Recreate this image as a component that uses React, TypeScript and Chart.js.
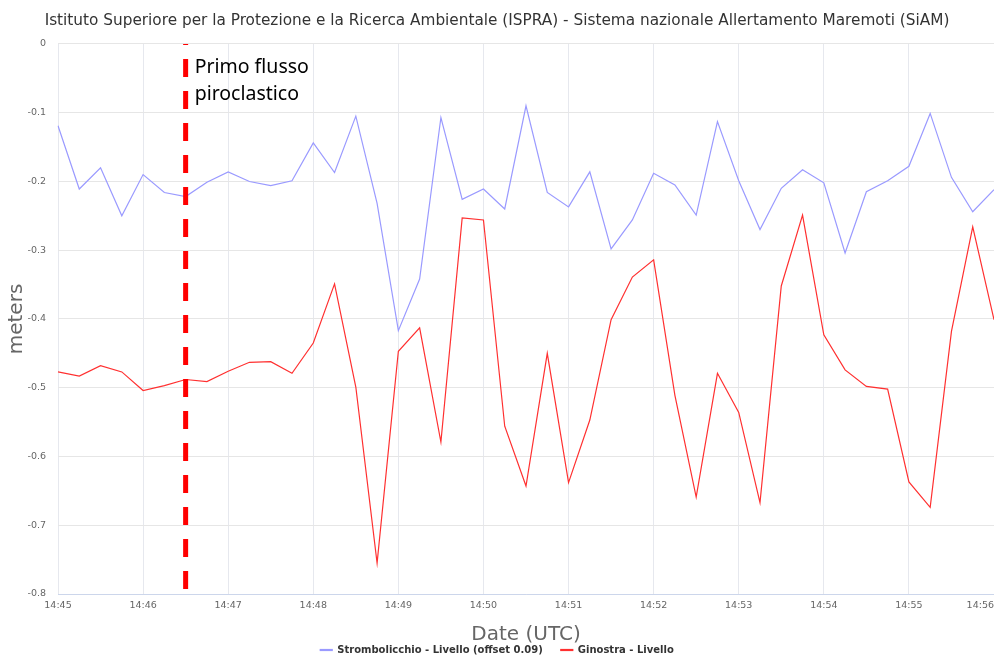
import React, { useEffect, useRef } from "react";
import { Chart, registerables } from "chart.js";

Chart.register(...registerables);

const chartTitle =
  "Istituto Superiore per la Protezione e la Ricerca Ambientale (ISPRA) - Sistema nazionale Allertamento Maremoti (SiAM)";

const timeLabels = [
  "14:45:00", "14:45:15", "14:45:30", "14:45:45",
  "14:46:00", "14:46:15", "14:46:30", "14:46:45",
  "14:47:00", "14:47:15", "14:47:30", "14:47:45",
  "14:48:00", "14:48:15", "14:48:30", "14:48:45",
  "14:49:00", "14:49:15", "14:49:30", "14:49:45",
  "14:50:00", "14:50:15", "14:50:30", "14:50:45",
  "14:51:00", "14:51:15", "14:51:30", "14:51:45",
  "14:52:00", "14:52:15", "14:52:30", "14:52:45",
  "14:53:00", "14:53:15", "14:53:30", "14:53:45",
  "14:54:00", "14:54:15", "14:54:30", "14:54:45",
  "14:55:00", "14:55:15", "14:55:30", "14:55:45",
  "14:56:00",
];

const strombolicchio = [
  -0.119, -0.211, -0.180, -0.250, -0.190, -0.216, -0.222, -0.201,
  -0.186, -0.200, -0.206, -0.199, -0.144, -0.187, -0.105, -0.232,
  -0.417, -0.342, -0.107, -0.226, -0.211, -0.240, -0.090, -0.216,
  -0.237, -0.186, -0.298, -0.256, -0.188, -0.205, -0.249, -0.113,
  -0.199, -0.270, -0.210, -0.183, -0.202, -0.304, -0.215, -0.199,
  -0.178, -0.101, -0.194, -0.244, -0.212,
];

const ginostra = [
  -0.477, -0.483, -0.468, -0.477, -0.504, -0.497, -0.488, -0.491,
  -0.476, -0.463, -0.462, -0.479, -0.435, -0.349, -0.499, -0.755,
  -0.447, -0.413, -0.579, -0.253, -0.256, -0.556, -0.643, -0.450,
  -0.638, -0.547, -0.401, -0.339, -0.314, -0.511, -0.659, -0.479,
  -0.536, -0.667, -0.352, -0.249, -0.423, -0.474, -0.498, -0.502,
  -0.637, -0.674, -0.418, -0.266, -0.401,
];

const seriesNames = ["Strombolicchio - Livello (offset 0.09)", "Ginostra - Livello"];
const markerTime = "14:46:30";
const markerText = ["Primo flusso", "piroclastico"];
const yTitle = "meters";
const xTitle = "Date (UTC)";

const SANS = "'DejaVu Sans', sans-serif";

const markerPlugin = {
  id: "markerPlugin",
  beforeDraw(chart: any) {
    const xs = chart.scales.x;
    const items = xs.getLabelItems();
    const last = items[items.length - 1];
    if (last && last.options) last.options.textAlign = "right";
  },
  afterDatasetsDraw(chart: any) {
    const { ctx, chartArea } = chart;
    const xs = chart.scales.x;
    const idx = timeLabels.indexOf(markerTime);
    const x = xs.getPixelForValue(idx);
    ctx.save();
    ctx.strokeStyle = "#ff0000";
    ctx.lineWidth = 5;
    ctx.setLineDash([18, 14]);
    ctx.lineDashOffset = 17;
    ctx.beginPath();
    ctx.moveTo(x, chartArea.top);
    ctx.lineTo(x, chartArea.bottom + 4);
    ctx.stroke();
    ctx.setLineDash([]);
    ctx.fillStyle = "#000000";
    ctx.font = "19.5px 'Noto Sans', sans-serif";
    ctx.textAlign = "left";
    ctx.textBaseline = "alphabetic";
    ctx.fillText(markerText[0], x + 9, chartArea.top + 29);
    ctx.fillText(markerText[1], x + 9, chartArea.top + 56);
    ctx.restore();
  },
};

export default function App() {
  const ref = useRef<HTMLCanvasElement | null>(null);

  useEffect(() => {
    if (!ref.current) return;
    const chart = new Chart(ref.current, {
      type: "line",
      data: {
        labels: timeLabels,
        datasets: [
          {
            label: seriesNames[0],
            data: strombolicchio,
            borderColor: "#9a9aff",
            backgroundColor: "#9a9aff",
            borderWidth: 1.2,
            pointRadius: 0,
            tension: 0,
          },
          {
            label: seriesNames[1],
            data: ginostra,
            borderColor: "#ff3030",
            backgroundColor: "#ff3030",
            borderWidth: 1.2,
            pointRadius: 0,
            tension: 0,
          },
        ],
      },
      options: {
        responsive: false,
        animation: false,
        layout: { padding: 0 },
        plugins: {
          title: {
            display: true,
            text: chartTitle,
            color: "#333333",
            font: { family: SANS, size: 15.3, weight: "normal" },
            padding: { top: 12, bottom: 13.6 },
          },
          legend: {
            position: "bottom",
            labels: {
              color: "#333333",
              font: { family: SANS, size: 10, weight: "bold" },
              boxWidth: 12,
              boxHeight: 1,
              padding: 18,
            },
          },
          tooltip: { enabled: false },
        },
        scales: {
          x: {
            type: "category",
            offset: false,
            afterFit: (scale: any) => {
              scale.height = 33;
              scale.paddingRight = 0;
              scale.paddingLeft = 0;
            },
            grid: {
              color: "#e6e8ee",
              drawTicks: false,
            },
            border: { display: true, color: "#ccd6eb" },
            ticks: {
              autoSkip: false,
              maxRotation: 0,
              minRotation: 0,
              padding: 6,
              color: "#666666",
              font: { family: SANS, size: 9.5 },
              callback: (_v: any, i: number) => {
                const t = timeLabels[i];
                return t.endsWith(":00") ? t.slice(0, 5) : null;
              },
            },
            title: {
              display: true,
              text: xTitle,
              color: "#666666",
              font: { family: SANS, size: 20 },
              padding: { top: 0, bottom: -20 },
            },
          },
          y: {
            min: -0.8,
            max: 0,
            afterFit: (scale: any) => {
              scale.width = 58;
            },
            grid: { color: "#e6e6e6", drawTicks: false },
            border: { display: false },
            ticks: {
              stepSize: 0.1,
              padding: 12,
              color: "#666666",
              font: { family: SANS, size: 9.5 },
            },
            title: {
              display: true,
              text: yTitle,
              color: "#666666",
              font: { family: SANS, size: 20 },
              padding: { top: 5, bottom: 0 },
            },
          },
        },
      },
      plugins: [markerPlugin],
    });
    return () => chart.destroy();
  }, []);

  return (
    <div
      style={{
        position: "fixed",
        left: 0,
        top: 0,
        width: 994,
        height: 655,
        overflow: "hidden",
        background: "#ffffff",
      }}
    >
      <canvas ref={ref} width={994} height={665} style={{ display: "block" }} />
    </div>
  );
}
